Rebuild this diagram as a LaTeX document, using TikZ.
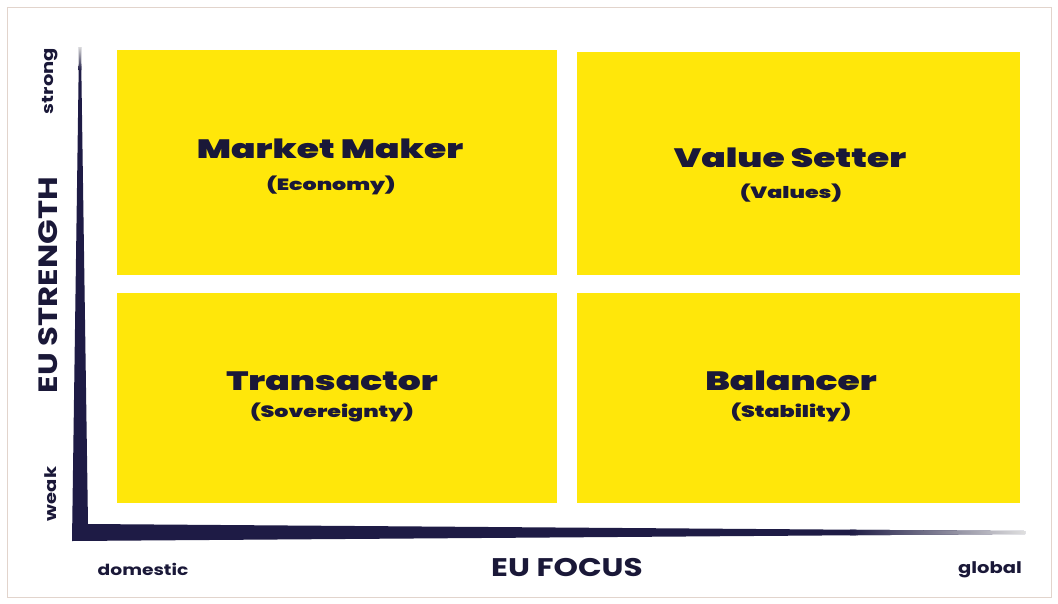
\documentclass[tikz,border=0pt]{standalone}
\usepackage{fontspec}
\newfontfamily\popT{Poppins Black}[FakeStretch=1.36]
\newfontfamily\popA{Poppins}[FakeStretch=1.22]
\definecolor{navy}{HTML}{1E1B45}
\definecolor{ink}{HTML}{1A1838}
\definecolor{quadyellow}{HTML}{FFE70A}
\definecolor{frame}{HTML}{E2D4CC}
\tikzset{
  quad/.style={fill=quadyellow, draw=none, inner sep=0pt},
  title/.style={text=ink, font=\popT\fontsize{26.5}{27}\selectfont, anchor=base, inner sep=0pt},
  sub/.style={text=ink, font=\popT\fontsize{16.3}{17}\selectfont, anchor=base, inner sep=0pt},
  axislabelx/.style={text=ink, font=\popA\bfseries\fontsize{25.5}{26}\selectfont, inner sep=0pt},
  axislabely/.style={text=ink, font=\popA\bfseries\fontsize{26.5}{27}\selectfont, inner sep=0pt},
  endlabel/.style={text=ink, font=\popA\bfseries\fontsize{16}{16}\selectfont, inner sep=0pt}
}
\begin{document}
\begin{tikzpicture}[x=1pt,y=-1pt]
\useasboundingbox (0,0) rectangle (1058,603);
\fill[white] (0,0) rectangle (1058,603);
\draw[frame, line width=1pt] (7,7) rectangle (1051,597);
% quadrants
\node[quad, minimum width=440pt, minimum height=225pt] (tl) at (337,162.5) {};
\node[quad, minimum width=443pt, minimum height=223pt] (tr) at (798.5,163.5) {};
\node[quad, minimum width=440pt, minimum height=210pt] (bl) at (337,398) {};
\node[quad, minimum width=443pt, minimum height=210pt] (br) at (798.5,398) {};
% axes
\fill[navy] (79,47) -- (81,47) -- (88,524) -- (1025,531) -- (1025,534) -- (72,541) -- cycle;
\shade[left color=navy, right color=gray!25] (850,529.7) -- (1025,531) -- (1025,534) -- (850,535.3) -- cycle;
\shade[top color=gray!30, bottom color=navy] (79,47) -- (81,47) -- (81.3,70) -- (78.7,70) -- cycle;
% texts
\node[title] (t1) at (330,158) {Market Maker};
\node[sub] (s1) at (331,190) {(Economy)};
\node[title] (t2) at (790,167) {Value Setter};
\node[sub] (s2) at (791,198) {(Values)};
\node[title] (t3) at (332,390) {Transactor};
\node[sub] (s3) at (332,417) {(Sovereignty)};
\node[title] (t4) at (791,390) {Balancer};
\node[sub] (s4) at (791,417) {(Stability)};
% axis labels
\node[axislabely, rotate=90] (ys) at (48,285) {EU STRENGTH};
\node[endlabel, rotate=90] (ystrong) at (50,81) {strong};
\node[endlabel, rotate=90] (yweak) at (51,494) {weak};
\node[axislabelx] (xf) at (567,568) {EU FOCUS};
\node[endlabel, font=\popA\bfseries\fontsize{15.3}{16}\selectfont] (xd) at (143,569) {domestic};
\node[endlabel] (xg) at (990,570) {global};
\end{tikzpicture}
\end{document}
